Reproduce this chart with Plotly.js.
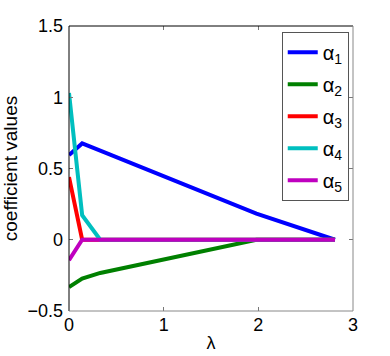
<!DOCTYPE html>
<html>
<head>
<meta charset="utf-8">
<script src="https://cdn.plot.ly/plotly-3.0.1.min.js"></script>
<style>
  html, body { margin: 0; padding: 0; background: #fff; }
  #chart { width: 390px; height: 356px; }
</style>
</head>
<body>
<div id="chart"></div>
<script>
// regularization path: lambda breakpoints and coefficient values
const lambda = [0, 0.139, 0.33, 1.98, 2.81];
const alpha1 = [0.594, 0.676, 0.625, 0.184, 0];
const alpha2 = [-0.332, -0.273, -0.233, 0, 0];
const alpha3 = [0.44, 0, 0, 0, 0];
const alpha4 = [1.03, 0.172, 0, 0, 0];
const alpha5 = [-0.144, 0, 0, 0, 0];

const seriesNames = ['α<sub>1</sub>', 'α<sub>2</sub>', 'α<sub>3</sub>', 'α<sub>4</sub>', 'α<sub>5</sub>'];
const seriesColors = ['#0000ff', '#008000', '#ff0000', '#00bfbf', '#bf00bf'];
const xTicks = [0, 1, 2, 3];
const yTicks = [-0.5, 0, 0.5, 1, 1.5];

const allSeries = [alpha1, alpha2, alpha3, alpha4, alpha5];
const traces = allSeries.map((vals, i) => ({
    x: lambda,
    y: vals,
    type: 'scatter',
    mode: 'lines',
    name: seriesNames[i],
    legendgroup: 'g' + i,
    line: {color: seriesColors[i], width: 4}
}));

const fontFam = 'Liberation Sans, Arial, sans-serif';

const axisCommon = {
    showgrid: false,
    zeroline: false,
    ticks: 'inside',
    ticklen: 4,
    tickwidth: 1,
    tickcolor: '#777',
    showline: false,
    mirror: 'ticks',
    tickfont: {family: fontFam, size: 18, color: '#000'}
};

const layout = {
    width: 390,
    height: 356,
    margin: {l: 68.5, r: 36.7, t: 26, b: 45.3},
    paper_bgcolor: '#fff',
    plot_bgcolor: '#fff',
    showlegend: true,
    xaxis: Object.assign({}, axisCommon, {
        range: [0, 3],
        tickvals: xTicks,
        ticktext: xTicks.map(String),
        ticklabelstandoff: 1,
        title: {text: 'λ', font: {family: fontFam, size: 18, color: '#000'}, standoff: 2}
    }),
    yaxis: Object.assign({}, axisCommon, {
        range: [-0.5, 1.5],
        tickvals: yTicks,
        ticktext: yTicks.map(v => v.toString().replace('-', '\u2212')),
        ticklabelstandoff: 5,
        title: {text: 'coefficient values', font: {family: fontFam, size: 19, color: '#000'}, standoff: 4}
    }),
    legend: {
        x: 0.985, y: 0.98,
        xanchor: 'right', yanchor: 'top',
        bgcolor: '#fff',
        bordercolor: '#555',
        borderwidth: 1,
        tracegroupgap: 3,
        font: {family: fontFam, size: 20, color: '#000'}
    },
    shapes: [
        // axes box: left/top dark, bottom/right grey as in the original
        {type: 'line', xref: 'paper', yref: 'paper', x0: 0, x1: 0, y0: 0, y1: 1, line: {color: '#000', width: 1}},
        {type: 'line', xref: 'paper', yref: 'paper', x0: 0, x1: 1, y0: 1, y1: 1, line: {color: '#000', width: 1}},
        {type: 'line', xref: 'paper', yref: 'paper', x0: 0, x1: 1, y0: 0, y1: 0, line: {color: '#888', width: 1}},
        {type: 'line', xref: 'paper', yref: 'paper', x0: 1, x1: 1, y0: 0, y1: 1, line: {color: '#888', width: 1}}
    ]
};

Plotly.newPlot('chart', traces, layout, {displayModeBar: false, staticPlot: true});
</script>
</body>
</html>
